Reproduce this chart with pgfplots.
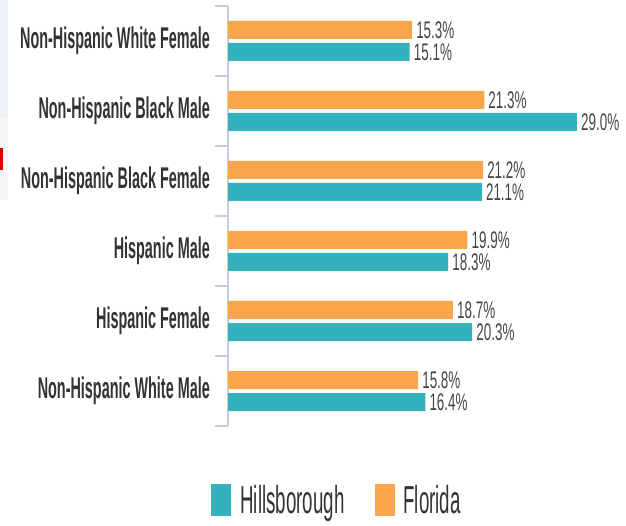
\documentclass[border=0pt]{standalone}
\usepackage{pgfplots}
\pgfplotsset{compat=1.18}
\usepackage{fontspec}
\setmainfont{Liberation Sans}
\newfontfamily\catfont{Liberation Sans}[FakeStretch=0.48]
\newfontfamily\numfont{Liberation Sans}[FakeStretch=0.56]
\definecolor{hteal}{HTML}{33B1BD}
\definecolor{forange}{HTML}{F8A54C}
\definecolor{axcol}{HTML}{C8CEE2}
\definecolor{labcol}{HTML}{333333}
\definecolor{numcol}{HTML}{454545}
\begin{document}
\begin{tikzpicture}
\useasboundingbox (0,0) rectangle (626pt,525pt);
\fill[color={rgb,255:red,238;green,241;blue,248}] (0pt,407pt) rectangle (8pt,525pt);
\fill[color={rgb,255:red,246;green,246;blue,246}] (0pt,325pt) rectangle (8pt,407pt);
\fill[red!85!black] (0pt,355pt) rectangle (2.5pt,377pt);
\begin{axis}[
  at={(228pt,99pt)}, anchor=south west,
  scale only axis, width=391pt, height=420pt,
  xmin=0, xmax=32.5, ymin=-0.5, ymax=5.5,
  axis x line=none, axis y line*=left,
  y axis line style={draw=axcol, line width=1.2pt},
  xbar, bar width=18pt,
  ytick={0,1,2,3,4,5},
  yticklabels={Non-Hispanic White Male, Hispanic Female, Hispanic Male, Non-Hispanic Black Female, Non-Hispanic Black Male, Non-Hispanic White Female},
  major tick length=0pt,
  minor ytick={-0.5,0.5,1.5,2.5,3.5,4.5,5.5},
  minor tick length=13pt, tick align=outside,
  minor tick style={draw=axcol, line width=1.2pt},
  yticklabel style={font=\catfont\bfseries\fontsize{30}{30}\selectfont, text=labcol, anchor=east, inner sep=0pt, xshift=-18pt},
  nodes near coords={\pgfmathprintnumber[fixed,fixed zerofill,precision=1,assume math mode=true]{\pgfplotspointmeta}\%},
  nodes near coords style={font=\numfont\fontsize{24}{24}\selectfont, text=numcol, anchor=west, inner sep=0pt, xshift=4pt},
  legend image code/.code={\fill[#1] (0pt,-16pt) rectangle (20pt,16pt);},
  legend style={at={(0.279,-0.176)}, anchor=center, draw=none, fill=none, inner sep=0pt,
    font=\catfont\fontsize{39}{39}\selectfont, text=labcol,
    /tikz/every odd column/.append style={column sep=7pt},
    /tikz/every even column/.append style={column sep=28pt}},
  legend columns=2, legend cell align=left,
]
\addplot[fill=hteal, draw=none, bar shift=-11pt] coordinates {(16.4,0) (20.3,1) (18.3,2) (21.1,3) (29.0,4) (15.1,5)};
\addplot[fill=forange, draw=none, bar shift=11pt] coordinates {(15.8,0) (18.7,1) (19.9,2) (21.2,3) (21.3,4) (15.3,5)};
\legend{Hillsborough, Florida}
\end{axis}
\end{tikzpicture}
\end{document}
